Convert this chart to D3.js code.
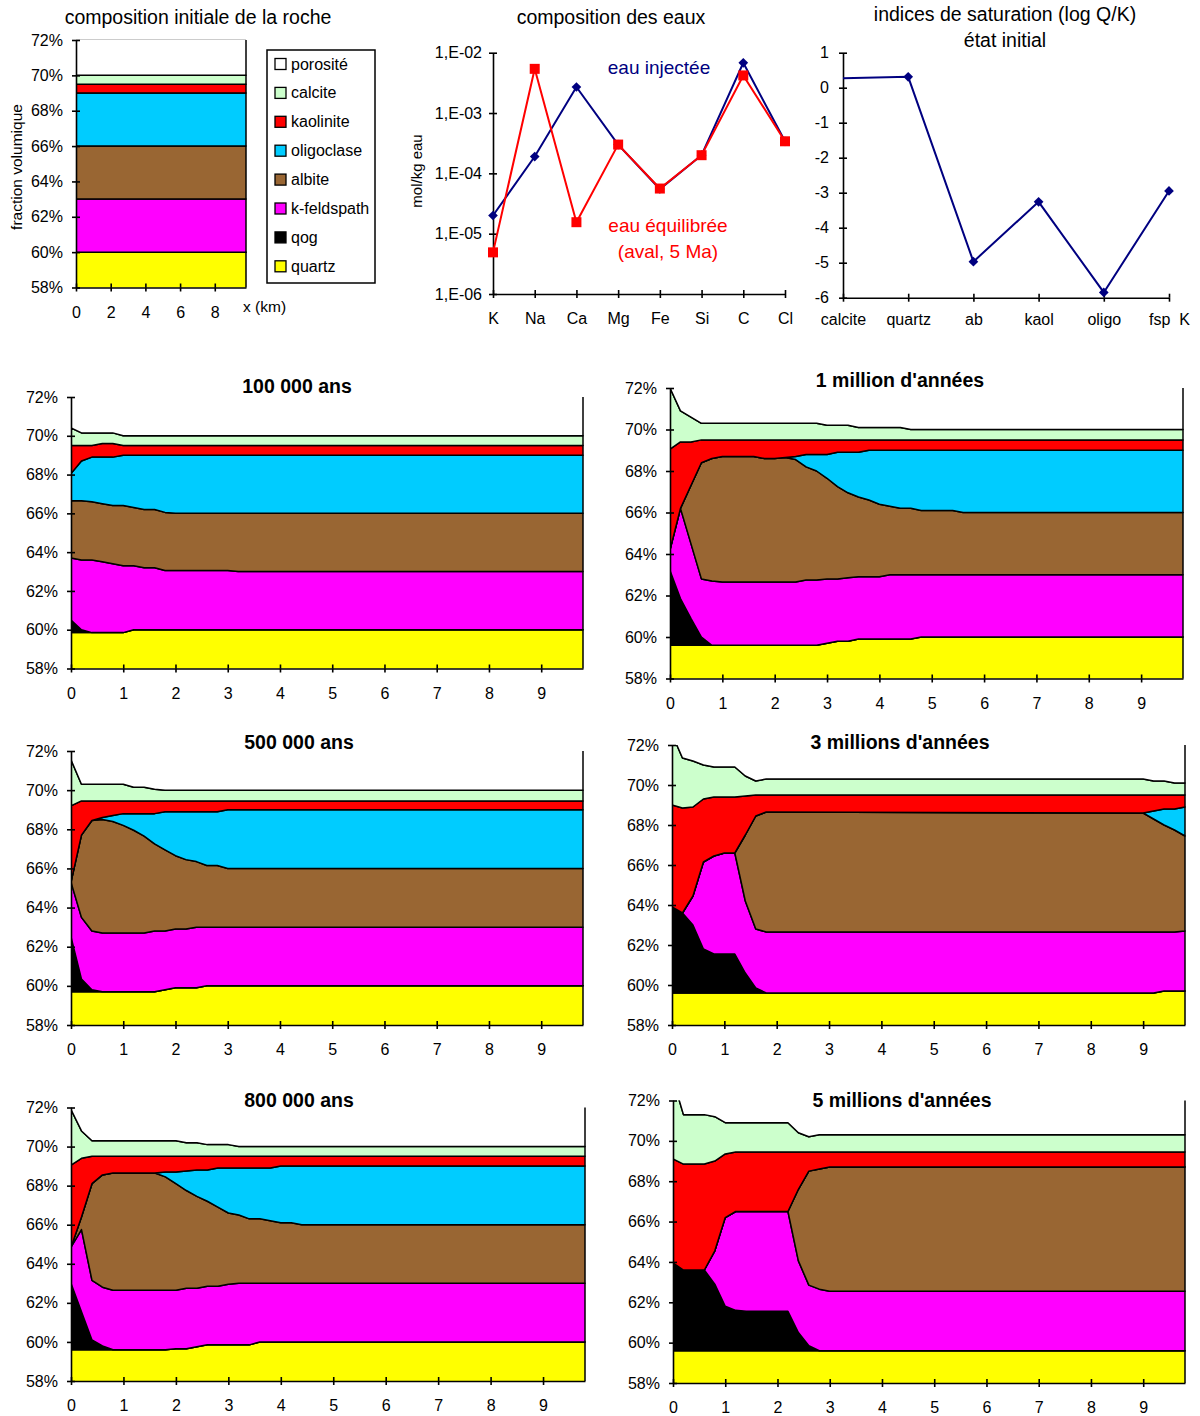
<!DOCTYPE html>
<html><head><meta charset="utf-8">
<script src="https://cdn.jsdelivr.net/npm/d3@7"></script>
<style>body{margin:0;background:#fff} svg{display:block}</style>
</head><body><svg id="c" width="1200" height="1416"></svg>
<script>
// ---------- DATA ----------
const minerals = ["quartz","qog","k-feldspath","albite","oligoclase","kaolinite","calcite","porosité"];
const legendOrder = ["porosité","calcite","kaolinite","oligoclase","albite","k-feldspath","qog","quartz"];
const yTicksPct = [58,60,62,64,66,68,70,72];
const kmTicks = [0,1,2,3,4,5,6,7,8,9];
const kmTicksInit = [0,2,4,6,8];
const kmMax = 9.8;

// cumulative tops (% volume) of quartz, qog, k-feldspath, albite, oligoclase, kaolinite, calcite
const kmInit = [0, 9.8];
const topsInit = [[60,60],[60,60],[63,63],[66,66],[69,69],[69.5,69.5],[70,70]];

const km100k = [0,0.2,0.4,0.6,0.8,1.0,1.2,1.4,1.6,1.8,2.0,3.0,3.2,9.8];
const tops100k = [
 [59.85,59.85,59.85,59.85,59.85,59.85,60,60,60,60,60,60,60,60],
 [60.5,60.0,59.85,59.85,59.85,59.85,60,60,60,60,60,60,60,60],
 [63.7,63.6,63.6,63.5,63.4,63.3,63.3,63.2,63.2,63.05,63.05,63.05,63.0,63.0],
 [66.65,66.65,66.6,66.5,66.4,66.4,66.3,66.2,66.2,66.05,66.0,66.0,66.0,66.0],
 [68.05,68.7,68.9,68.9,68.9,69.0,69.0,69.0,69.0,69.0,69.0,69.0,69.0,69.0],
 [69.5,69.5,69.5,69.6,69.6,69.5,69.5,69.5,69.5,69.5,69.5,69.5,69.5,69.5],
 [70.4,70.15,70.15,70.15,70.15,70.0,70.0,70.0,70.0,70.0,70.0,70.0,70.0,70.0]
];

const km1M = [0,0.2,0.4,0.6,0.8,1.0,1.2,1.4,1.6,1.8,2.0,2.2,2.4,2.6,2.8,3.0,3.2,3.4,3.6,3.8,4.0,4.2,4.4,4.6,4.8,5.0,5.2,5.4,5.6,9.8];
const tops1M = [
 [59.6,59.6,59.6,59.6,59.6,59.6,59.6,59.6,59.6,59.6,59.6,59.6,59.6,59.6,59.6,59.7,59.8,59.8,59.9,59.9,59.9,59.9,59.9,59.9,60,60,60,60,60,60],
 [63.2,61.85,60.9,60.0,59.6,59.6,59.6,59.6,59.6,59.6,59.6,59.6,59.6,59.6,59.6,59.7,59.8,59.8,59.9,59.9,59.9,59.9,59.9,59.9,60,60,60,60,60,60],
 [64.2,66.2,64.5,62.8,62.7,62.65,62.65,62.65,62.65,62.65,62.65,62.65,62.65,62.75,62.75,62.8,62.8,62.85,62.9,62.9,62.9,63.0,63.0,63.0,63.0,63.0,63.0,63.0,63.0,63.0],
 [64.2,66.2,67.3,68.4,68.6,68.7,68.7,68.7,68.7,68.6,68.6,68.65,68.55,68.2,68.0,67.65,67.25,66.95,66.75,66.6,66.4,66.3,66.2,66.2,66.1,66.1,66.1,66.1,66.0,66.0],
 [64.2,66.2,67.3,68.4,68.6,68.7,68.7,68.7,68.7,68.6,68.6,68.65,68.7,68.8,68.8,68.8,68.9,68.9,68.9,69.0,69.0,69.0,69.0,69.0,69.0,69.0,69.0,69.0,69.0,69.0],
 [69.05,69.4,69.4,69.5,69.5,69.5,69.5,69.5,69.5,69.5,69.5,69.5,69.5,69.5,69.5,69.5,69.5,69.5,69.5,69.5,69.5,69.5,69.5,69.5,69.5,69.5,69.5,69.5,69.5,69.5],
 [72.0,70.9,70.6,70.3,70.3,70.3,70.3,70.3,70.3,70.3,70.3,70.3,70.3,70.3,70.3,70.2,70.2,70.2,70.1,70.1,70.1,70.1,70.1,70.0,70.0,70.0,70.0,70.0,70.0,70.0]
];

const km500k = [0,0.2,0.4,0.6,0.8,1.0,1.2,1.4,1.6,1.8,2.0,2.2,2.4,2.6,2.8,3.0,9.8];
const tops500k = [
 [59.7,59.7,59.7,59.7,59.7,59.7,59.7,59.7,59.7,59.8,59.9,59.9,59.9,60,60,60,60],
 [62.5,60.35,59.8,59.7,59.7,59.7,59.7,59.7,59.7,59.8,59.9,59.9,59.9,60,60,60,60],
 [65.3,63.5,62.8,62.7,62.7,62.7,62.7,62.7,62.8,62.8,62.9,62.9,63.0,63.0,63.0,63.0,63.0],
 [65.3,67.7,68.45,68.5,68.4,68.2,67.95,67.65,67.25,66.95,66.65,66.45,66.35,66.15,66.15,66.0,66.0],
 [65.3,67.7,68.45,68.6,68.7,68.8,68.8,68.8,68.8,68.9,68.9,68.9,68.9,68.9,68.9,69.0,69.0],
 [69.2,69.45,69.45,69.45,69.45,69.45,69.45,69.45,69.45,69.45,69.45,69.45,69.45,69.45,69.45,69.45,69.45],
 [71.55,70.3,70.3,70.3,70.3,70.3,70.15,70.15,70.05,70.0,70.0,70.0,70.0,70.0,70.0,70.0,70.0]
];

const km3M = [0,0.2,0.4,0.6,0.8,1.0,1.2,1.4,1.6,1.8,9.0,9.2,9.4,9.6,9.8];
const tops3M = [
 [59.6,59.6,59.6,59.6,59.6,59.6,59.6,59.6,59.6,59.6,59.6,59.6,59.7,59.7,59.7],
 [63.9,63.6,63.0,61.8,61.55,61.55,61.55,60.6,59.85,59.6,59.6,59.6,59.7,59.7,59.7],
 [63.9,63.6,64.45,66.15,66.45,66.6,66.6,64.2,62.8,62.65,62.65,62.65,62.65,62.65,62.7],
 [63.9,63.6,64.45,66.15,66.45,66.6,66.6,67.5,68.45,68.65,68.6,68.3,68.0,67.75,67.45],
 [63.9,63.6,64.45,66.15,66.45,66.6,66.6,67.5,68.45,68.65,68.6,68.7,68.8,68.8,68.9],
 [69.0,68.85,68.9,69.3,69.4,69.4,69.4,69.45,69.5,69.5,69.5,69.5,69.5,69.5,69.5],
 [72.55,71.35,71.2,71.0,70.9,70.9,70.9,70.45,70.2,70.3,70.3,70.2,70.2,70.1,70.1]
];

const km800k = [0,0.2,0.4,0.6,0.8,1.0,1.2,1.4,1.6,1.8,2.0,2.2,2.4,2.6,2.8,3.0,3.2,3.4,3.6,3.8,4.0,4.2,4.4,9.8];
const tops800k = [
 [59.6,59.6,59.6,59.6,59.6,59.6,59.6,59.6,59.6,59.6,59.65,59.65,59.75,59.85,59.85,59.85,59.85,59.85,60,60,60,60,60,60],
 [63.0,61.55,60.1,59.8,59.6,59.6,59.6,59.6,59.6,59.6,59.65,59.65,59.75,59.85,59.85,59.85,59.85,59.85,60,60,60,60,60,60],
 [64.85,65.75,63.15,62.8,62.65,62.65,62.65,62.65,62.65,62.65,62.65,62.75,62.75,62.85,62.85,62.95,63.0,63.0,63.0,63.0,63.0,63.0,63.0,63.0],
 [64.85,66.4,68.1,68.55,68.65,68.65,68.65,68.65,68.65,68.45,68.1,67.75,67.45,67.2,66.9,66.6,66.5,66.3,66.3,66.2,66.1,66.1,66.0,66.0],
 [64.85,66.4,68.1,68.55,68.65,68.65,68.65,68.65,68.65,68.7,68.7,68.75,68.8,68.8,68.9,68.9,68.9,68.9,68.9,68.9,69.0,69.0,69.0,69.0],
 [69.05,69.4,69.5,69.5,69.5,69.5,69.5,69.5,69.5,69.5,69.5,69.5,69.5,69.5,69.5,69.5,69.5,69.5,69.5,69.5,69.5,69.5,69.5,69.5],
 [71.9,70.8,70.3,70.3,70.3,70.3,70.3,70.3,70.3,70.3,70.3,70.2,70.2,70.1,70.1,70.1,70.0,70.0,70.0,70.0,70.0,70.0,70.0,70.0]
];

const km5M = [0,0.2,0.4,0.6,0.8,1.0,1.2,1.4,1.6,1.8,2.0,2.2,2.4,2.6,2.8,3.0,9.8];
const tops5M = [
 [59.6,59.6,59.6,59.6,59.6,59.6,59.6,59.6,59.6,59.6,59.6,59.6,59.6,59.6,59.6,59.6,59.6],
 [63.95,63.6,63.6,63.6,62.9,61.8,61.6,61.55,61.55,61.55,61.55,61.55,60.5,59.85,59.6,59.6,59.6],
 [63.95,63.6,63.6,63.6,64.55,66.2,66.5,66.5,66.5,66.5,66.5,66.5,64.05,62.85,62.65,62.55,62.55],
 [63.95,63.6,63.6,63.6,64.55,66.2,66.5,66.5,66.5,66.5,66.5,66.5,67.6,68.5,68.6,68.7,68.7],
 [63.95,63.6,63.6,63.6,64.55,66.2,66.5,66.5,66.5,66.5,66.5,66.5,67.6,68.5,68.6,68.7,68.7],
 [69.1,68.85,68.85,68.85,69.0,69.35,69.45,69.45,69.45,69.45,69.45,69.45,69.45,69.45,69.45,69.45,69.45],
 [73.05,71.3,71.3,71.3,71.2,70.9,70.9,70.9,70.9,70.9,70.9,70.9,70.4,70.2,70.3,70.3,70.3]
];

// waters
const elements = ["K","Na","Ca","Mg","Fe","Si","C","Cl"];
const injected = [2.0e-5,1.9e-4,2.7e-3,3.0e-4,5.5e-5,2.0e-4,6.8e-3,3.4e-4];
const equilibrated = [4.9e-6,5.4e-3,1.55e-5,3.0e-4,5.6e-5,2.0e-4,4.2e-3,3.4e-4];
const logTicks = [1e-6,1e-5,1e-4,1e-3,1e-2];

// saturation indices
const saturMinerals = ["calcite","quartz","ab","kaol","oligo","fsp  K"];
const saturIndex = [0.27,0.31,-4.97,-3.26,-5.85,-2.95];
const saturTicks = [-6,-5,-4,-3,-2,-1,0,1];

// ---------- STYLE ----------
const FONT = '"Liberation Sans", Arial, Helvetica, sans-serif';
const fill = {"quartz":"#FFFF00","qog":"#000000","k-feldspath":"#FF00FF","albite":"#996633",
  "oligoclase":"#00CCFF","kaolinite":"#FF0000","calcite":"#CCFFCC","porosité":"#FFFFFF"};
const TICK_FS = 16;
const svg = d3.select("#c");
const defs = svg.append("defs");

function styleAxis(sel, fs){
  sel.attr("font-family", FONT).attr("font-size", fs);
  sel.selectAll("path.domain").attr("stroke","#000").attr("stroke-width",1.6);
  sel.selectAll(".tick line").attr("stroke","#000").attr("stroke-width",1.6);
  sel.selectAll(".tick text").attr("fill","#000");
}
function crossAxis(axisFn, axisOpp, scale, transform, values, fmt, pad, fs){
  const a = svg.append("g").attr("transform",transform)
    .call(axisFn(scale).tickValues(values).tickFormat(fmt).tickSizeInner(4).tickSizeOuter(0).tickPadding(pad));
  styleAxis(a, fs);
  const b = svg.append("g").attr("transform",transform)
    .call(axisOpp(scale).tickValues(values).tickFormat("").tickSizeInner(4).tickSizeOuter(0));
  b.select(".domain").remove();
  styleAxis(b, fs);
  return a;
}
function rowsFrom(km, tops){
  return km.map((k,i)=>{
    const row = {km:k}; let prev = 0;
    tops.forEach((t,j)=>{ row[minerals[j]] = t[i]-prev; prev = t[i]; });
    row["porosité"] = 100 - prev;
    return row;
  });
}
function text(x,y,str,opt={}){
  const t = svg.append("text").attr("x",x).attr("y",y).text(str)
    .attr("font-family",FONT).attr("font-size",opt.size||15)
    .attr("font-weight",opt.bold?"bold":"normal")
    .attr("text-anchor",opt.anchor||"middle").attr("fill",opt.color||"#000");
  if(opt.rotate) t.attr("transform",`rotate(${opt.rotate},${x},${y})`);
  return t;
}

function stackedPanel(p){
  const x = d3.scaleLinear().domain([0,kmMax]).range([p.left,p.right]);
  const y = d3.scaleLinear().domain([58,72]).range([p.bottom,p.top]);
  const cid = "clip-"+p.id;
  defs.append("clipPath").attr("id",cid).append("rect")
    .attr("x",p.left).attr("y",p.top).attr("width",p.right-p.left+1.5).attr("height",p.bottom-p.top);
  const series = d3.stack().keys(minerals)(rowsFrom(p.km,p.tops));
  const area = d3.area().x(d=>x(d.data.km)).y0(d=>y(d[0])).y1(d=>y(d[1]));
  if(p.frameTop){
    svg.append("line").attr("x1",x(0)).attr("x2",x(kmMax)).attr("y1",y(72)).attr("y2",y(72))
      .attr("stroke","#999").attr("stroke-width",1);
  }
  svg.append("g").attr("clip-path",`url(#${cid})`)
    .selectAll("path").data(series).join("path")
    .attr("d",area).attr("fill",d=>fill[d.key])
    .attr("stroke","#000").attr("stroke-width",1.5).attr("stroke-linejoin","round");
  crossAxis(d3.axisLeft, d3.axisRight, y, `translate(${p.left},0)`, yTicksPct, d=>d+"%", 9, TICK_FS);
  crossAxis(d3.axisBottom, d3.axisTop, x, `translate(0,${p.bottom})`, p.xTicks, d=>d, 15, TICK_FS);
  if(p.title) text(p.titleX, p.titleY, p.title, {size:19.5, bold:true});
}

// ---------- TOP LEFT : initial composition ----------
text(198,24,"composition initiale de la roche",{size:19.5});
stackedPanel({id:"init",left:76,right:246,top:40,bottom:287.5,km:kmInit,tops:topsInit,xTicks:kmTicksInit,frameTop:true});
text(243,312,"x (km)",{size:15.5,anchor:"start"});
text(22,167,"fraction volumique",{size:15.5,rotate:-90});
// legend
svg.append("rect").attr("x",267).attr("y",50).attr("width",108).attr("height",233)
  .attr("fill","#fff").attr("stroke","#000").attr("stroke-width",1.5);
legendOrder.forEach((m,i)=>{
  const cy = 64 + i*28.9;
  svg.append("rect").attr("x",275).attr("y",cy-5.5).attr("width",11).attr("height",11)
    .attr("fill",fill[m]).attr("stroke","#000").attr("stroke-width",1.3);
  text(291,cy+5.5,m,{size:16,anchor:"start"});
});

// ---------- TOP MIDDLE : waters ----------
text(611,24,"composition des eaux",{size:19.5});
{
  const xe = d3.scalePoint().domain(elements).range([493,785]);
  const ye = d3.scaleLog().domain([1e-6,1e-2]).range([294,52.7]);
  const fmtE = d => "1,E-" + String(Math.round(-Math.log10(d))).padStart(2,"0");
  crossAxis(d3.axisLeft, d3.axisRight, ye, "translate(493,0)", logTicks, fmtE, 7, TICK_FS);
  crossAxis(d3.axisBottom, d3.axisTop, xe, "translate(0,294)", elements, d=>d, 14.5, TICK_FS);
  const line = d3.line().x((d,i)=>xe(elements[i])).y(d=>ye(d));
  svg.append("path").datum(injected).attr("d",line).attr("fill","none").attr("stroke","#000080").attr("stroke-width",2);
  svg.append("g").selectAll("path").data(injected).join("path")
    .attr("transform",(d,i)=>`translate(${xe(elements[i])},${ye(d)})`)
    .attr("d",d3.symbol(d3.symbolDiamond2,60)()).attr("fill","#000080");
  svg.append("path").datum(equilibrated).attr("d",line).attr("fill","none").attr("stroke","#FF0000").attr("stroke-width",2);
  svg.append("g").selectAll("path").data(equilibrated).join("path")
    .attr("transform",(d,i)=>`translate(${xe(elements[i])},${ye(d)})`)
    .attr("d",d3.symbol(d3.symbolSquare,100)()).attr("fill","#FF0000");
  text(659,74,"eau injectée",{size:19,color:"#000080"});
  text(668,232,"eau équilibrée",{size:19,color:"#FF0000"});
  text(668,258,"(aval, 5 Ma)",{size:19,color:"#FF0000"});
  text(422,171,"mol/kg eau",{size:15,rotate:-90});
}

// ---------- TOP RIGHT : saturation indices ----------
text(1005,21,"indices de saturation (log Q/K)",{size:19.5});
text(1005,47,"état initial",{size:19.5});
{
  const xs = d3.scalePoint().domain(saturMinerals).range([843,1169]);
  const ys = d3.scaleLinear().domain([-6,1]).range([297.7,52.7]);
  crossAxis(d3.axisLeft, d3.axisRight, ys, "translate(843,0)", saturTicks, d=>d, 10, TICK_FS);
  const ax = crossAxis(d3.axisBottom, d3.axisTop, xs, "translate(0,297.7)", saturMinerals, d=>d, 12, TICK_FS);
  ax.selectAll(".tick text").style("white-space","pre");
  const line = d3.line().x((d,i)=>xs(saturMinerals[i])).y(d=>ys(d));
  svg.append("path").datum(saturIndex).attr("d",line).attr("fill","none").attr("stroke","#000080").attr("stroke-width",2);
  svg.append("g").selectAll("path").data(saturIndex.slice(1)).join("path")
    .attr("transform",(d,i)=>`translate(${xs(saturMinerals[i+1])},${ys(d)})`)
    .attr("d",d3.symbol(d3.symbolDiamond2,60)()).attr("fill","#000080");
}

// ---------- SIX TIME PANELS ----------
stackedPanel({id:"a",left:71,right:583,top:397,bottom:668.5,km:km100k,tops:tops100k,xTicks:kmTicks,title:"100 000 ans",titleX:297,titleY:393});
stackedPanel({id:"b",left:670,right:1183,top:388,bottom:678.5,km:km1M,tops:tops1M,xTicks:kmTicks,title:"1 million d'années",titleX:900,titleY:387});
stackedPanel({id:"c",left:71,right:583,top:751,bottom:1025,km:km500k,tops:tops500k,xTicks:kmTicks,title:"500 000 ans",titleX:299,titleY:749});
stackedPanel({id:"d",left:672,right:1185,top:745,bottom:1025,km:km3M,tops:tops3M,xTicks:kmTicks,title:"3 millions d'années",titleX:900,titleY:749});
stackedPanel({id:"e",left:71,right:585,top:1107.5,bottom:1381,km:km800k,tops:tops800k,xTicks:kmTicks,title:"800 000 ans",titleX:299,titleY:1107});
stackedPanel({id:"f",left:673,right:1185,top:1100.5,bottom:1383,km:km5M,tops:tops5M,xTicks:kmTicks,title:"5 millions d'années",titleX:902,titleY:1107});
</script></body></html>
